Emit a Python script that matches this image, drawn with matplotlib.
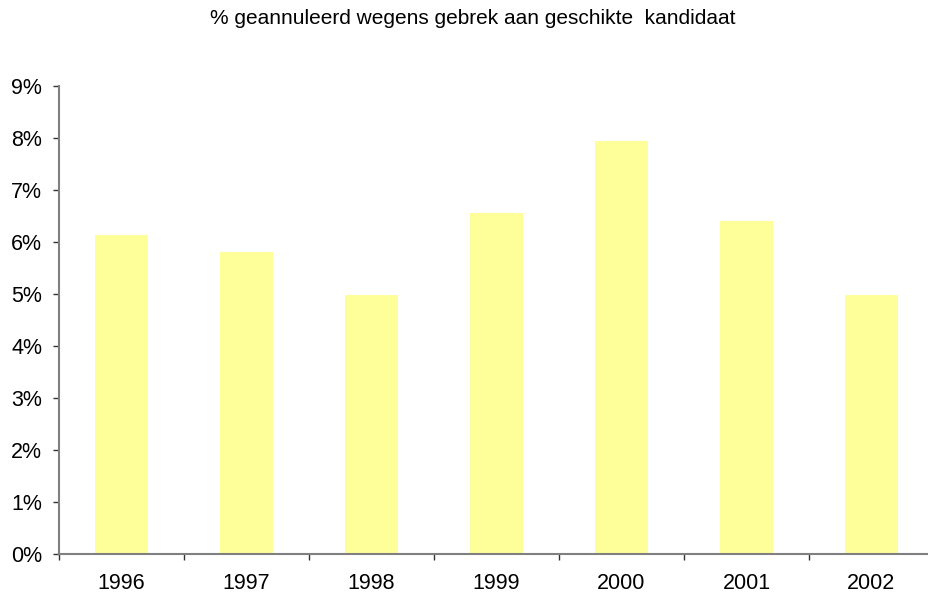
import matplotlib
matplotlib.use('Agg')
import matplotlib.pyplot as plt
import numpy as np
from matplotlib.ticker import FuncFormatter, FixedLocator, NullFormatter

plt.rcParams['font.family'] = ['Liberation Sans', 'DejaVu Sans']

years = ['1996', '1997', '1998', '1999', '2000', '2001', '2002']
pct_cancelled = [6.12, 5.80, 4.97, 6.55, 7.94, 6.40, 4.97]
title = '% geannuleerd wegens gebrek aan geschikte  kandidaat'

fig = plt.figure(figsize=(9.29, 5.94), dpi=100)
ax = fig.add_axes([59 / 929, 1 - 553.7 / 594, 875 / 929, (553.7 - 85.7) / 594])

x = np.arange(len(years))
ax.bar(x, pct_cancelled, width=0.43, color='#FFFF99', zorder=2)

ax.set_xlim(-0.5, len(years) - 0.5)
ax.set_ylim(0, 9)
ax.set_yticks(np.arange(0, 10, 1))
ax.yaxis.set_major_formatter(FuncFormatter(lambda v, _: f'{v:.0f}%'))

# labels centred on bars, ticks between categories
ax.set_xticks(x)
ax.set_xticklabels(years)
ax.tick_params(axis='x', which='major', length=0, pad=14, labelsize=15.5)
ax.xaxis.set_minor_locator(FixedLocator(np.arange(-0.5, len(years), 1.0)))
ax.xaxis.set_minor_formatter(NullFormatter())
ax.tick_params(axis='x', which='minor', length=4, width=1, color='#333333', direction='out')
ax.tick_params(axis='y', length=4, width=1, color='#333333', direction='out', pad=8, labelsize=15.5)

for side in ['top', 'right']:
    ax.spines[side].set_visible(False)
for side in ['left', 'bottom']:
    ax.spines[side].set_color('#808080')
    ax.spines[side].set_linewidth(1.5)

fig.text(473 / 929, 1 - 19 / 594, title, ha='center', va='center', fontsize=15)

fig.savefig('out.png', dpi=100)
